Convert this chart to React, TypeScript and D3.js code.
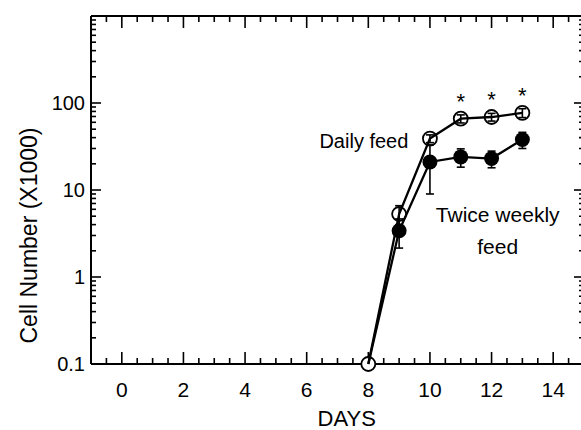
import * as d3 from 'd3';

// Days on the x axis and the two feeding schedules (cell number x1000)
const days = [8, 9, 10, 11, 12, 13];
const dailyMean = [0.1, 5.3, 39, 66, 69, 77];
const dailySd = [0, 1.3, 4, 7, 7, 9];
const twiceMean = [0.1, 3.4, 21, 24, 23, 38];
const twiceSd = [0, 1.25, 12, 5.7, 5, 8];
const starDays = [11, 12, 13];

const xTicks = [0, 2, 4, 6, 8, 10, 12, 14];
const yTicks = [0.1, 1, 10, 100];
const yTickLabels = ['0.1', '1', '10', '100'];

const W = 581;
const H = 430;
const FONT = '"Liberation Sans", Arial, Helvetica, sans-serif';

export default function App() {
  const x = d3.scaleLinear().domain([-1, 15]).range([91, 584]);
  const y = d3.scaleLog().domain([0.1, 1000]).range([364, 16]);

  const x0 = x(-1);
  const x1 = x(15);
  const yTop = y(1000);
  const yBot = y(0.1);

  // minor x ticks every half day
  const xMinor = d3.range(-0.5, 15, 0.5).filter(d => !xTicks.includes(d));
  // minor y ticks 2..9 in each decade
  const yMinor: number[] = [];
  [0.1, 1, 10, 100].forEach(dec => {
    for (let k = 2; k <= 9; k++) yMinor.push(dec * k);
  });

  const line = d3.line<[number, number]>()
    .x(d => x(d[0]))
    .y(d => y(d[1]));

  const dailyPts = days.map((d, i) => [d, dailyMean[i]] as [number, number]);
  const twicePts = days.map((d, i) => [d, twiceMean[i]] as [number, number]);

  const errBars = (means: number[], sds: number[]) =>
    days.map((d, i) => {
      if (!sds[i]) return null;
      const lo = Math.max(means[i] - sds[i], 0.1);
      const hi = means[i] + sds[i];
      const cx = x(d);
      return (
        <g key={`e${d}`} stroke="#000" strokeWidth={1.6}>
          <line x1={cx} x2={cx} y1={y(lo)} y2={y(hi)} />
          <line x1={cx - 4} x2={cx + 4} y1={y(lo)} y2={y(lo)} />
          <line x1={cx - 4} x2={cx + 4} y1={y(hi)} y2={y(hi)} />
        </g>
      );
    });

  return (
    <svg width={W} height={H} style={{ position: 'absolute', left: 0, top: 0, background: '#fff' }} fontFamily={FONT}>
      <rect width={W} height={H} fill="#fff" />

      {/* frame */}
      <g stroke="#000" strokeWidth={2} fill="none">
        <line x1={x0} x2={x1} y1={yBot} y2={yBot} />
        <line x1={x0} x2={x1} y1={yTop} y2={yTop} />
        <line x1={x0} x2={x0} y1={yTop} y2={yBot} />
        <line x1={x1} x2={x1} y1={yTop} y2={yBot} />
      </g>

      {/* x ticks, bottom and top */}
      <g stroke="#000" strokeWidth={1.6}>
        {xTicks.map(d => (
          <g key={`xt${d}`}>
            <line x1={x(d)} x2={x(d)} y1={yBot} y2={yBot - 12} />
            <line x1={x(d)} x2={x(d)} y1={yTop} y2={yTop + 12} />
          </g>
        ))}
        {xMinor.map(d => (
          <g key={`xm${d}`}>
            <line x1={x(d)} x2={x(d)} y1={yBot} y2={yBot - 6} />
            <line x1={x(d)} x2={x(d)} y1={yTop} y2={yTop + 6} />
          </g>
        ))}
      </g>

      {/* y ticks, left and right */}
      <g stroke="#000" strokeWidth={1.6}>
        {yTicks.concat([1000]).map(d => (
          <g key={`yt${d}`}>
            <line x1={x0} x2={x0 + 10} y1={y(d)} y2={y(d)} />
            <line x1={x1} x2={x1 - 10} y1={y(d)} y2={y(d)} />
          </g>
        ))}
        {yMinor.map(d => (
          <g key={`ym${d}`}>
            <line x1={x0} x2={x0 + 5} y1={y(d)} y2={y(d)} />
            <line x1={x1} x2={x1 - 5} y1={y(d)} y2={y(d)} />
          </g>
        ))}
      </g>

      {/* tick labels */}
      <g fontSize={21} fill="#000">
        {xTicks.map(d => (
          <text key={`xl${d}`} x={x(d)} y={yBot + 33} textAnchor="middle">{d}</text>
        ))}
      </g>
      <g fontSize={20} fill="#000">
        {yTicks.map((d, i) => (
          <text key={`yl${d}`} x={x0 - 6} y={y(d) + 7} textAnchor="end">{yTickLabels[i]}</text>
        ))}
      </g>

      {/* axis titles */}
      <text x={x(7.3)} y={426} fontSize={22} textAnchor="middle">DAYS</text>
      <text transform={`translate(37,${y(3)}) rotate(-90)`} fontSize={23} textAnchor="middle">Cell Number (X1000)</text>

      {/* open circles (daily feed) below the lines */}
      {dailyPts.map(p => (
        <circle key={`oc${p[0]}`} cx={x(p[0])} cy={y(p[1])} r={7} fill="#fff" stroke="#000" strokeWidth={1.8} />
      ))}

      {/* lines */}
      <path d={line(dailyPts) || ''} fill="none" stroke="#000" strokeWidth={2.3} />
      <path d={line(twicePts) || ''} fill="none" stroke="#000" strokeWidth={2.3} />

      {/* error bars */}
      {errBars(dailyMean, dailySd)}
      {errBars(twiceMean, twiceSd)}

      {/* filled circles (twice weekly feed) */}
      {twicePts.slice(1).map(p => (
        <circle key={`fc${p[0]}`} cx={x(p[0])} cy={y(p[1])} r={7.5} fill="#000" />
      ))}

      {/* significance stars */}
      {starDays.map(d => (
        <text key={`s${d}`} x={x(d)} y={y(dailyMean[days.indexOf(d)]) - 10} fontSize={22} textAnchor="middle">*</text>
      ))}

      {/* series labels */}
      <text x={x(9.3)} y={y(38) + 8} fontSize={20} textAnchor="end">Daily feed</text>
      <text x={x(12.2)} y={y(5.2) + 7} fontSize={21} textAnchor="middle">Twice weekly</text>
      <text x={x(12.2)} y={y(2.2) + 7} fontSize={21} textAnchor="middle">feed</text>
    </svg>
  );
}
